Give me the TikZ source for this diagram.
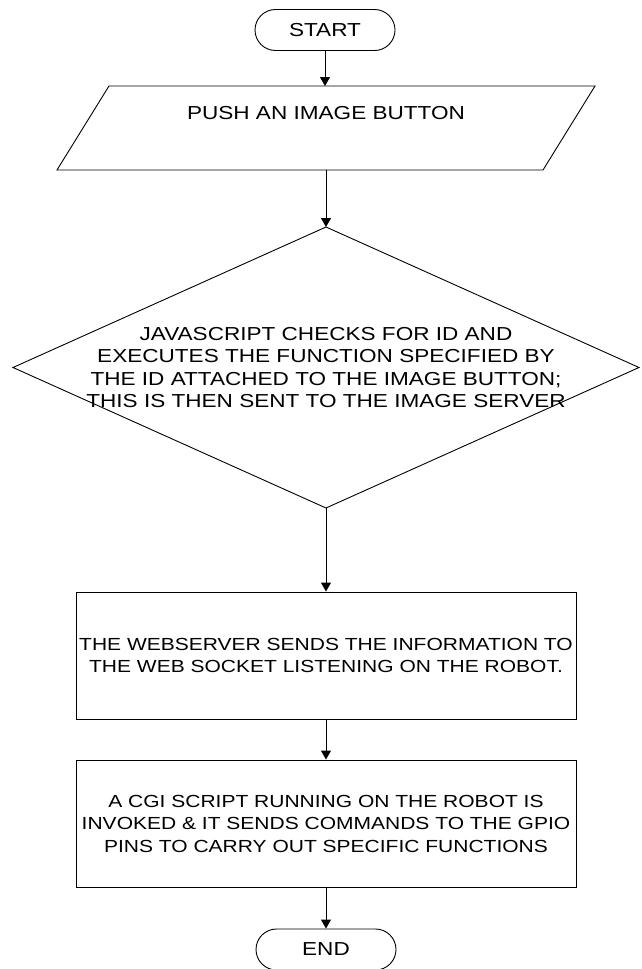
\documentclass[tikz,border=0pt]{standalone}
\usepackage{fontspec}
\setmainfont{Liberation Sans}[FakeStretch=1.2]
\usetikzlibrary{shapes.misc,arrows.meta}
\tikzset{
  outline/.style={draw=black, line width=0.9pt},
  term/.style={outline, rounded rectangle, minimum width=140pt, minimum height=41pt, inner sep=0pt, font=\fontsize{18.8}{22.5}\selectfont},
  txt/.style={align=center, inner sep=0pt, font=\fontsize{18.8}{22.5}\selectfont},
  procbox/.style={outline, rectangle, align=center, inner sep=0pt, minimum width=500pt, minimum height=127pt, font=\fontsize{17.5}{22.5}\selectfont},
  flow/.style={line width=0.9pt, -{Triangle[length=9pt,width=10pt]}},
}
\begin{document}
\begin{tikzpicture}[x=1pt,y=-1pt]
\useasboundingbox (0,0) rectangle (641,969);
% start
\node[term] (start) at (325,30) {START};
% input parallelogram
\coordinate (ptop) at (325,86);
\coordinate (pbotc) at (326,170);
\draw[outline] (57,170) -- (109,86) -- (595,86) -- (543,170) -- cycle;
\node[txt] (ptext) at (326,113) {PUSH AN IMAGE BUTTON};
% decision diamond
\coordinate (dtop) at (326,227);
\coordinate (dbot) at (326,508);
\coordinate (dleft) at (13,367.5);
\coordinate (dright) at (639,367.5);
\draw[outline] (dtop) -- (dright) -- (dbot) -- (dleft) -- cycle;
\node[txt] (dtext) at (326,367.5) {JAVASCRIPT CHECKS FOR ID AND\\EXECUTES THE FUNCTION SPECIFIED BY\\THE ID ATTACHED TO THE IMAGE BUTTON;\\THIS IS THEN SENT TO THE IMAGE SERVER};
% process boxes
\node[procbox] (web) at (326,655.5) {THE WEBSERVER SENDS THE INFORMATION TO\\THE WEB SOCKET LISTENING ON THE ROBOT.};
\node[procbox] (cgi) at (326,823.5) {A CGI SCRIPT RUNNING ON THE ROBOT IS\\INVOKED \& IT SENDS COMMANDS TO THE GPIO\\PINS TO CARRY OUT SPECIFIC FUNCTIONS};
% end
\node[term] (end) at (326,949.5) {END};
% connectors
\draw[flow] (start.south) -- (ptop);
\draw[flow] (pbotc) -- (dtop);
\draw[flow] (dbot) -- (web.north);
\draw[flow] (web.south) -- (cgi.north);
\draw[flow] (cgi.south) -- (end.north);
\end{tikzpicture}
\end{document}
